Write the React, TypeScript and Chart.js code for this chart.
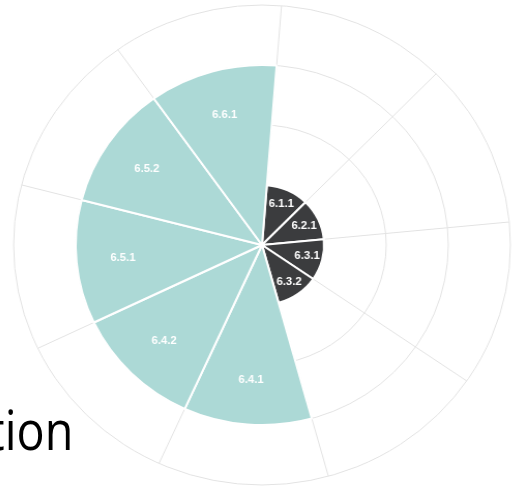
import React, { useEffect, useRef } from "react";
import { Chart, registerables } from "chart.js";

Chart.register(...registerables);

const categories = ["6.1.1", "6.2.1", "6.3.1", "6.3.2", "6.4.1", "6.4.2", "6.5.1", "6.5.2", "6.6.1"];
const values = [1, 1, 1, 1, 3, 3, 3, 3, 3];
const groups = ["dark", "dark", "dark", "dark", "teal", "teal", "teal", "teal", "teal"];
const groupColors: Record<string, string> = { dark: "#3b3c3e", teal: "#acd9d6" };
const scaleTicks = [0, 1, 2, 3, 4];
const overlayText = "tion";

const labelPlugin = {
  id: "arcLabels",
  afterDatasetsDraw(chart: any) {
    const ctx = chart.ctx;
    const meta = chart.getDatasetMeta(0);
    ctx.save();
    ctx.fillStyle = "#ffffff";
    ctx.font = "bold 11px 'Liberation Sans', Arial, sans-serif";
    ctx.textAlign = "center";
    ctx.textBaseline = "middle";
    meta.data.forEach((el: any, i: number) => {
      const p = el.getProps(["x", "y", "startAngle", "endAngle", "outerRadius"], true);
      const mid = (p.startAngle + p.endAngle) / 2;
      const r = p.outerRadius * 0.75;
      ctx.fillText(chart.data.labels[i], p.x + Math.cos(mid) * r, p.y + Math.sin(mid) * r);
    });
    ctx.restore();
  },
};

export default function App() {
  const ref = useRef<HTMLCanvasElement>(null);
  useEffect(() => {
    if (!ref.current) return;
    const chart = new Chart(ref.current, {
      type: "polarArea",
      data: {
        labels: categories,
        datasets: [
          {
            data: values,
            backgroundColor: groups.map((g) => groupColors[g]),
            borderColor: "#ffffff",
            borderWidth: 2,
          },
        ],
      },
      options: {
        animation: false,
        responsive: true,
        maintainAspectRatio: false,
        layout: { padding: { top: 5, bottom: 2, left: 22, right: 10 } },
        plugins: { legend: { display: false }, tooltip: { enabled: false } },
        scales: {
          r: {
            min: scaleTicks[0],
            max: scaleTicks[scaleTicks.length - 1],
            startAngle: 4.5,
            ticks: { display: false, stepSize: 1 },
            grid: { color: "#e3e3e3", lineWidth: 1, circular: true },
            angleLines: { display: true, color: "#e3e3e3", lineWidth: 1 },
            pointLabels: { display: false },
          },
        },
      },
      plugins: [labelPlugin],
    });
    return () => chart.destroy();
  }, []);

  return (
    <div style={{ position: "fixed", left: 0, top: 0, width: 512, height: 487, overflow: "hidden", background: "#fff" }}>
      <div
        style={{
          position: "absolute",
          left: 0,
          top: 0,
          width: 512,
          height: 487,
          transform: "scaleX(1.035)",
          transformOrigin: "262px 245px",
        }}
      >
        <canvas ref={ref} />
      </div>
      <span
        style={{
          position: "absolute",
          right: 439,
          top: 401,
          fontFamily: "'Open Sans', sans-serif",
          fontSize: 55,
          lineHeight: 1,
          color: "#000",
          whiteSpace: "nowrap",
          transform: "scaleX(0.85)",
          transformOrigin: "right center",
        }}
      >
        {overlayText}
      </span>
    </div>
  );
}
